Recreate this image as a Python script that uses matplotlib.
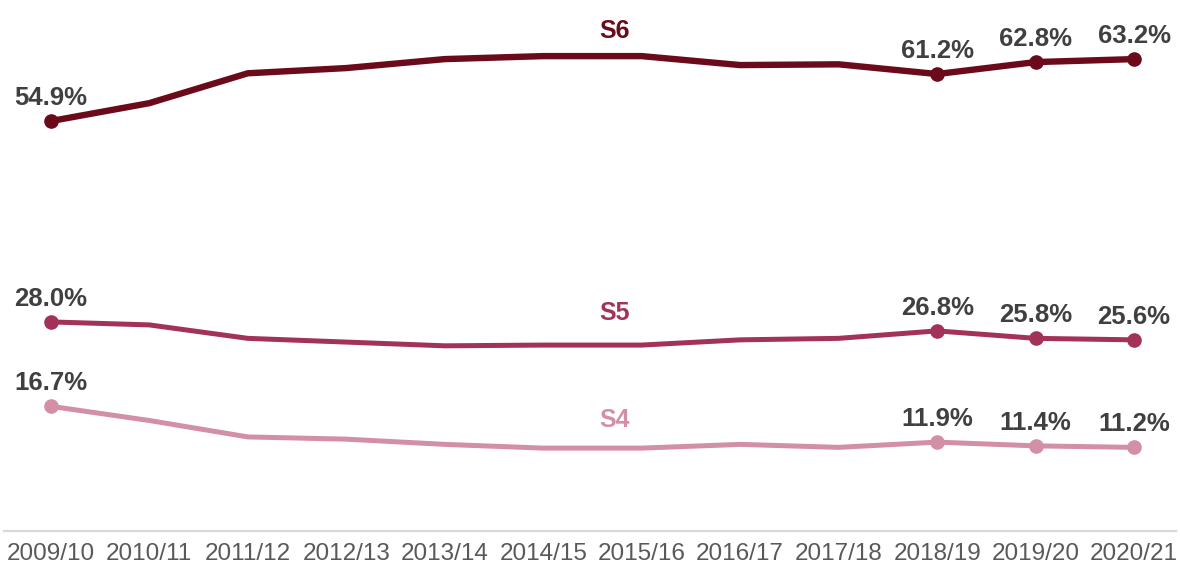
import matplotlib.pyplot as plt

# School years and leaver rates (%) by stage
years = ['2009/10', '2010/11', '2011/12', '2012/13', '2013/14', '2014/15',
         '2015/16', '2016/17', '2017/18', '2018/19', '2019/20', '2020/21']
s6 = [54.9, 57.3, 61.3, 62.0, 63.2, 63.6, 63.6, 62.4, 62.5, 61.2, 62.8, 63.2]
s5 = [28.0, 27.6, 25.8, 25.3, 24.8, 24.9, 24.9, 25.6, 25.8, 26.8, 25.8, 25.6]
s4 = [16.7, 14.8, 12.6, 12.3, 11.6, 11.1, 11.1, 11.6, 11.2, 11.9, 11.4, 11.2]
labelled = [0, 9, 10, 11]

plt.rcParams['font.family'] = ['Liberation Sans', 'DejaVu Sans']

fig = plt.figure(figsize=(11.8, 5.69), dpi=100)
ax = fig.add_axes([0.003, 0.0668, 0.994, 0.933])

series = [
    ('S6', s6, '#6B0A1A', 4.6),
    ('S5', s5, '#A3325A', 3.6),
    ('S4', s4, '#D38FA3', 3.6),
]
# vertical gap (in data units) between the line and its series name
name_offsets = {'S6': 3.4, 'S5': 4.3, 'S4': 3.8}

x = list(range(len(years)))
for name, vals, color, lw in series:
    ax.plot(x, vals, color=color, lw=lw, solid_capstyle='round', zorder=3)
    ax.plot([x[i] for i in labelled], [vals[i] for i in labelled], 'o',
            color=color, ms=9.5, zorder=4)
    for i in labelled:
        ax.annotate(f'{vals[i]:.1f}%', (x[i], vals[i]), xytext=(0, 8),
                    textcoords='offset points', ha='center', va='bottom',
                    fontsize=18.5, fontweight='bold', color='#404040')
    ax.text(5.72, vals[5] + name_offsets[name], name, ha='center', va='center',
            fontsize=18, fontweight='bold', color=color)

ax.set_xlim(-0.48, 11.43)
ax.set_ylim(0, 71.1)
ax.set_xticks(x)
ax.set_xticklabels(years, fontsize=17.5, color='#595959')
ax.tick_params(axis='x', length=0, pad=9)
ax.set_yticks([])
for side in ['top', 'right', 'left']:
    ax.spines[side].set_visible(False)
ax.spines['bottom'].set_color('#D9D9D9')
ax.spines['bottom'].set_linewidth(1.6)

fig.savefig('out.png', dpi=100)
